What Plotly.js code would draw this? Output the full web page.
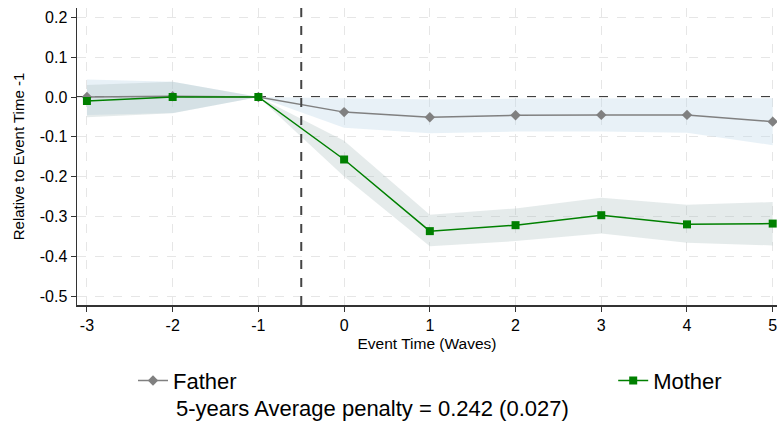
<!DOCTYPE html>
<html>
<head>
<meta charset="utf-8">
<script src="https://cdn.plot.ly/plotly-3.0.1.min.js"></script>
<style>html,body{margin:0;padding:0;background:#fff;}#chart{width:779px;height:423px;}</style>
</head>
<body>
<div id="chart"></div>
<script>
var eventTime = [-3, -2, -1, 0, 1, 2, 3, 4, 5];
var fatherEst   = [0.000, 0.002, 0.000, -0.038, -0.051, -0.046, -0.045, -0.045, -0.062];
var fatherUpper = [0.044, 0.038, 0.000, -0.003, -0.006, -0.004, -0.003, -0.003, -0.003];
var fatherLower = [-0.045, -0.040, 0.000, -0.077, -0.091, -0.087, -0.087, -0.090, -0.121];
var motherEst   = [-0.010, 0.000, 0.000, -0.157, -0.337, -0.322, -0.297, -0.320, -0.318];
var motherUpper = [0.030, 0.038, 0.000, -0.110, -0.296, -0.280, -0.253, -0.271, -0.264];
var motherLower = [-0.051, -0.041, 0.000, -0.200, -0.375, -0.362, -0.343, -0.366, -0.373];
var yTicks = [0.2, 0.1, 0.0, -0.1, -0.2, -0.3, -0.4, -0.5];
var yTickText = ["0.2", "0.1", "0.0", "-0.1", "-0.2", "-0.3", "-0.4", "-0.5"];
var xTickText = ["-3", "-2", "-1", "0", "1", "2", "3", "4", "5"];
var noteText = "5-years Average penalty = 0.242 (0.027)";

function band(x, up, lo) {
  return {
    x: x.concat(x.slice().reverse()),
    y: up.concat(lo.slice().reverse())
  };
}
var fb = band(eventTime, fatherUpper, fatherLower);
var mb = band(eventTime, motherUpper, motherLower);

var font = "'Liberation Sans', Arial, sans-serif";
var traces = [
  {x: fb.x, y: fb.y, type: 'scatter', mode: 'lines', fill: 'toself',
   fillcolor: 'rgba(190,215,232,0.35)', line: {width: 0}, hoverinfo: 'skip', showlegend: false},
  {x: mb.x, y: mb.y, type: 'scatter', mode: 'lines', fill: 'toself',
   fillcolor: 'rgba(170,190,190,0.30)', line: {width: 0}, hoverinfo: 'skip', showlegend: false},
  {x: eventTime, y: fatherEst, type: 'scatter', mode: 'lines+markers', name: 'Father', legend: 'legend',
   line: {color: '#808080', width: 1.5}, marker: {symbol: 'diamond', size: 8, color: '#808080'}},
  {x: eventTime, y: motherEst, type: 'scatter', mode: 'lines+markers', name: 'Mother', legend: 'legend2',
   line: {color: '#008000', width: 1.5}, marker: {symbol: 'square', size: 8, color: '#008000'}}
];

var legendCommon = {
  orientation: 'h', xanchor: 'left', y: -0.184, yanchor: 'top',
  font: {size: 22, family: font}, bgcolor: 'rgba(0,0,0,0)'
};

var layout = {
  width: 779, height: 423,
  margin: {l: 77, r: 2, t: 8, b: 118, autoexpand: false},
  paper_bgcolor: '#fff', plot_bgcolor: '#fff',
  font: {family: font, color: '#000', size: 16},
  xaxis: {
    range: [-3.116, 5.05], tickvals: eventTime, ticktext: xTickText,
    showgrid: true, gridcolor: '#e6e6e6', griddash: 'dash', gridwidth: 1,
    zeroline: false, showline: true, linecolor: '#333', linewidth: 1.5,
    ticks: 'outside', ticklen: 5, tickcolor: '#333', tickfont: {size: 16, family: font},
    title: {text: 'Event Time (Waves)', font: {size: 15.5, family: font}, standoff: 5}
  },
  yaxis: {
    range: [-0.5226, 0.2236], tickvals: yTicks, ticktext: yTickText,
    showgrid: true, gridcolor: '#e6e6e6', griddash: 'dash', gridwidth: 1,
    zeroline: false, showline: true, linecolor: '#333', linewidth: 1.5,
    ticks: 'outside', ticklen: 5, tickcolor: '#333', tickfont: {size: 16, family: font},
    title: {text: 'Relative to Event Time -1', font: {size: 15, family: font}, standoff: 11}
  },
  shapes: [
    {type: 'line', xref: 'paper', yref: 'y', x0: 0, x1: 1, y0: 0, y1: 0,
     line: {color: '#000', width: 1.5, dash: 'dash'}, layer: 'between'},
    {type: 'line', xref: 'x', yref: 'paper', x0: -0.5, x1: -0.5, y0: 0, y1: 1,
     line: {color: '#444', width: 2, dash: 'dash'}, layer: 'above'}
  ],
  showlegend: true,
  legend: Object.assign({x: 0.08}, legendCommon),
  legend2: Object.assign({x: 0.766}, legendCommon),
  annotations: [
    {xref: 'paper', yref: 'paper', x: 0.138, y: -0.35, xanchor: 'left', yanchor: 'middle',
     text: noteText, showarrow: false, font: {size: 22, family: font}}
  ]
};

Plotly.newPlot('chart', traces, layout, {displayModeBar: false, staticPlot: true});
</script>
</body>
</html>
